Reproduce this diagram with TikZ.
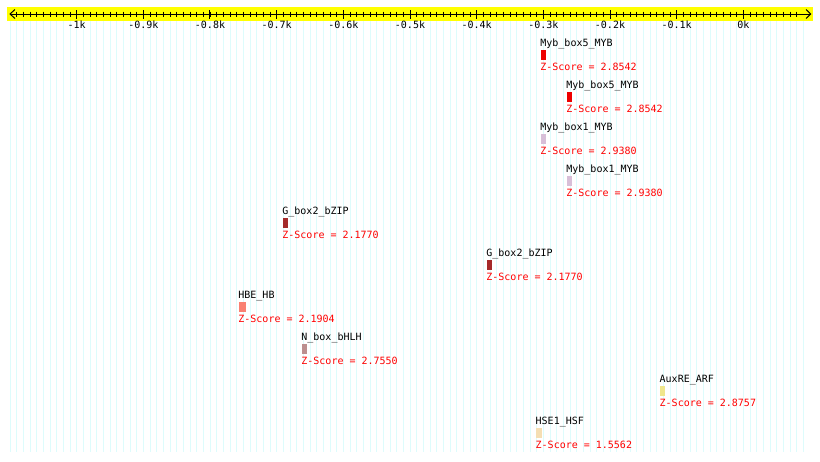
\documentclass[tikz,border=0pt]{standalone}
\usepackage{fontspec}
\setmonofont{DejaVu Sans Mono}
\definecolor{gridc}{HTML}{DDFCFC}
\definecolor{axisbg}{HTML}{FFFF00}
\definecolor{mybfive}{HTML}{EE0000}
\definecolor{mybone}{HTML}{D8BFD8}
\definecolor{gbox}{HTML}{A52A2A}
\definecolor{hbe}{HTML}{FA8072}
\definecolor{nbox}{HTML}{BC8F8F}
\definecolor{auxre}{HTML}{F0E68C}
\definecolor{hse}{HTML}{F5DEB3}
\tikzset{
  gridline/.style={draw=gridc, line width=1pt},
  tickline/.style={draw=black, line width=1pt},
  ticklabel/.style={anchor=base, inner sep=0pt},
  motiflabel/.style={anchor=base west, inner sep=0pt, text=black},
  zscore/.style={anchor=base west, inner sep=0pt, text=red},
}
\begin{document}
\begin{tikzpicture}[x=1pt,y=-1pt,font=\ttfamily\fontsize{10}{12}\selectfont]
\useasboundingbox (0,0) rectangle (820,461);
\fill[white] (0,0) rectangle (820,461);
% grid
\foreach \i in {0,...,119}
  \draw[gridline] ({10+\i*20/3},21) -- ({10+\i*20/3},452);
% axis band
\fill[axisbg] (7,7) rectangle (813,21);
\draw[tickline] (10,14) -- (810.7,14);
\draw[tickline] (15,9.5) -- (10,14) -- (15,18.5);
\draw[tickline] (806,9.5) -- (810.7,14) -- (806,18.5);
\foreach \i in {1,...,118}
  \draw[tickline] ({10+\i*20/3},11.5) -- ({10+\i*20/3},16.5);
\foreach \k/\t in {10/-1k,9/-0.9k,8/-0.8k,7/-0.7k,6/-0.6k,5/-0.5k,4/-0.4k,3/-0.3k,2/-0.2k,1/-0.1k,0/0k}{
  \draw[tickline] ({743.33-\k*200/3},10) -- ({743.33-\k*200/3},18.5);
  \node[ticklabel] (tl\k) at ({743.33-\k*200/3},28) {\t};
}
% motifs
\foreach \x/\n/\c/\w/\z [count=\r from 0] in {
  540.7/Myb\_box5\_MYB/mybfive/5/2.8542,
  566.7/Myb\_box5\_MYB/mybfive/5/2.8542,
  540.7/Myb\_box1\_MYB/mybone/5.3/2.9380,
  566.7/Myb\_box1\_MYB/mybone/5.3/2.9380,
  282.7/G\_box2\_bZIP/gbox/5.5/2.1770,
  486.7/G\_box2\_bZIP/gbox/5.3/2.1770,
  238.7/HBE\_HB/hbe/7/2.1904,
  301.7/N\_box\_bHLH/nbox/5.7/2.7550,
  660/AuxRE\_ARF/auxre/5/2.8757,
  536/HSE1\_HSF/hse/5.7/1.5562}{
  \fill[\c] (\x,{49.5+42*\r}) rectangle ++(\w,10);
  \node[motiflabel] (lab\r) at (\x-0.5,{46.5+42*\r}) {\n};
  \node[zscore] (zs\r) at (\x-0.5,{70+42*\r}) {Z-Score = \z};
}
\end{tikzpicture}
\end{document}
